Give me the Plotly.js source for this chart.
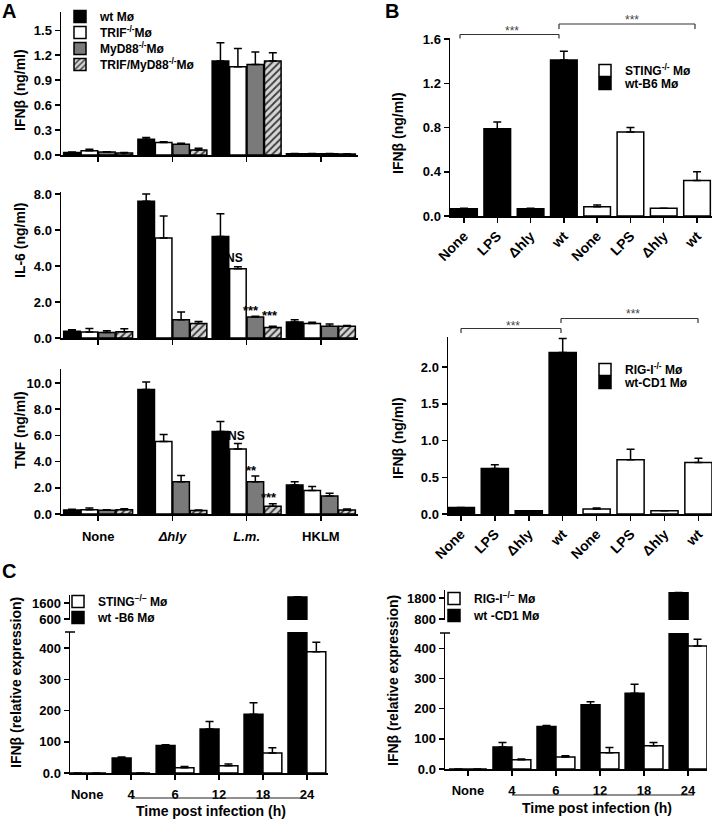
<!DOCTYPE html>
<html><head><meta charset="utf-8">
<script src="https://cdn.plot.ly/plotly-3.0.1.min.js"></script>
<style>html,body{margin:0;padding:0;background:#fff;}#chart{width:716px;height:819px;}</style>
</head><body><div id="chart"></div>
<script>
// ---------- DATA ----------
// Panel A (4 groups x 4 genotypes)
const groupsA = ['None', 'Δhly', 'L.m.', 'HKLM'];
const groupTicksA = ['None', '<i>Δhly</i>', '<i>L.m.</i>', 'HKLM'];
const seriesA = ['wt Mø', 'TRIF<sup>-/-</sup>Mø', 'MyD88<sup>-/-</sup>Mø', 'TRIF/MyD88<sup>-/-</sup>Mø'];

const ifnA_wt   = [0.03, 0.19, 1.13, 0.015];
const ifnA_trif = [0.05, 0.15, 1.06, 0.015];
const ifnA_myd  = [0.035, 0.13, 1.09, 0.015];
const ifnA_dko  = [0.025, 0.06, 1.13, 0.012];
const ifnA_wt_err   = [0.005, 0.02, 0.22, 0.003];
const ifnA_trif_err = [0.02, 0.01, 0.22, 0.003];
const ifnA_myd_err  = [0.005, 0.01, 0.15, 0.003];
const ifnA_dko_err  = [0.005, 0.02, 0.10, 0.003];

const il6_wt   = [0.37, 7.6, 5.64, 0.89];
const il6_trif = [0.33, 5.55, 3.84, 0.80];
const il6_myd  = [0.30, 1.02, 1.16, 0.65];
const il6_dko  = [0.35, 0.80, 0.59, 0.65];
const il6_wt_err   = [0.09, 0.40, 1.26, 0.13];
const il6_trif_err = [0.20, 1.23, 0.12, 0.07];
const il6_myd_err  = [0.10, 0.42, 0.05, 0.13];
const il6_dko_err  = [0.17, 0.12, 0.06, 0.05];

const tnf_wt   = [0.31, 9.5, 6.3, 2.22];
const tnf_trif = [0.33, 5.54, 4.97, 1.79];
const tnf_myd  = [0.28, 2.47, 2.47, 1.38];
const tnf_dko  = [0.33, 0.26, 0.59, 0.31];
const tnf_wt_err   = [0.05, 0.58, 0.77, 0.25];
const tnf_trif_err = [0.13, 0.53, 0.41, 0.30];
const tnf_myd_err  = [0.04, 0.46, 0.43, 0.20];
const tnf_dko_err  = [0.08, 0.05, 0.20, 0.07];

// Panel B
const stimB = ['None', 'LPS', 'Δhly', 'wt'];
const ifnB_wtB6  = [0.066, 0.79, 0.066, 1.41];
const ifnB_wtB6_err = [0.005, 0.06, 0.005, 0.08];
const ifnB_sting = [0.084, 0.76, 0.07, 0.32];
const ifnB_sting_err = [0.016, 0.04, 0.0, 0.08];

const ifnB_wtCD1 = [0.09, 0.62, 0.045, 2.2];
const ifnB_wtCD1_err = [0.0, 0.05, 0.0, 0.19];
const ifnB_rigi  = [0.068, 0.74, 0.045, 0.70];
const ifnB_rigi_err = [0.012, 0.14, 0.0, 0.06];

// Panel C
const timeC = ['None', '4', '6', '12', '18', '24'];
const relC_wtB6  = [0, 48, 88.5, 141, 188, 1980];
const relC_wtB6_err = [0, 3, 2, 24, 37, 15];
const relC_sting = [0, 0, 17, 23.5, 64, 389];
const relC_sting_err = [0, 0, 4, 5.5, 17, 30];
const relC_wtCD1 = [0, 73, 141, 213, 251, 2050];
const relC_wtCD1_err = [0, 15, 3, 10, 30, 15];
const relC_rigi  = [0, 31, 40, 54, 77, 408];
const relC_rigi_err = [0, 2, 4, 17, 11, 22];

// ---------- LAYOUT HELPERS ----------
const W = 716, H = 819;
const F = 'Liberation Sans, Arial, sans-serif';
const xd = (a, b) => [a / W, b / W];
const yd = (t, b) => [1 - b / H, 1 - t / H];
const zeros = a => a.map(() => 0);
const errUp = e => ({type: 'data', symmetric: false, array: e, arrayminus: zeros(e),
  color: 'black', thickness: 1.5, width: 4});
const LINE = {color: 'black', width: 1.5};

const fillA = [
  {color: '#000000', line: LINE},
  {color: '#ffffff', line: LINE},
  {color: '#7a7a7a', line: LINE},
  {color: '#d6d6d6', line: LINE, pattern: {shape: '/', fgcolor: '#3a3a3a', bgcolor: '#d6d6d6', size: 5, solidity: 0.35}}
];
const legA = ['legend', 'legend2', 'legend3', 'legend4'];

const traces = [];
const panelsA = [
  {ax: '', vals: [ifnA_wt, ifnA_trif, ifnA_myd, ifnA_dko], errs: [ifnA_wt_err, ifnA_trif_err, ifnA_myd_err, ifnA_dko_err]},
  {ax: '2', vals: [il6_wt, il6_trif, il6_myd, il6_dko], errs: [il6_wt_err, il6_trif_err, il6_myd_err, il6_dko_err]},
  {ax: '3', vals: [tnf_wt, tnf_trif, tnf_myd, tnf_dko], errs: [tnf_wt_err, tnf_trif_err, tnf_myd_err, tnf_dko_err]}
];
panelsA.forEach((p, pi) => {
  p.vals.forEach((v, si) => {
    traces.push({type: 'bar', x: groupsA, y: v, name: seriesA[si],
      xaxis: 'x' + p.ax, yaxis: 'y' + p.ax, legend: legA[si], showlegend: pi === 0,
      marker: fillA[si], error_y: errUp(p.errs[si]), hoverinfo: 'skip'});
  });
});

// Panel B
const idxB = stimB.map((_, i) => i);
const idxB2 = stimB.map((_, i) => i + stimB.length);
const ticksB = stimB.concat(stimB);
function bPair(xa, ya, legBlack, legWhite, blackY, blackE, blackName, whiteY, whiteE, whiteName) {
  traces.push({type: 'bar', x: idxB, y: blackY, name: blackName, xaxis: xa, yaxis: ya, legend: legBlack,
    width: 0.8, offset: -0.4, marker: {color: '#000', line: LINE}, error_y: errUp(blackE), hoverinfo: 'skip'});
  traces.push({type: 'bar', x: idxB2, y: whiteY, name: whiteName, xaxis: xa, yaxis: ya, legend: legWhite,
    width: 0.8, offset: -0.4, marker: {color: '#fff', line: LINE}, error_y: errUp(whiteE), hoverinfo: 'skip'});
}
bPair('x4', 'y4', 'legend6', 'legend5', ifnB_wtB6, ifnB_wtB6_err, 'wt-B6 Mø', ifnB_sting, ifnB_sting_err, 'STING<sup>-/-</sup> Mø');
bPair('x5', 'y5', 'legend8', 'legend7', ifnB_wtCD1, ifnB_wtCD1_err, 'wt-CD1 Mø', ifnB_rigi, ifnB_rigi_err, 'RIG-I<sup>-/-</sup> Mø');

// Panel C (broken axis: same data drawn on a lower and an upper y axis)
function cPair(xa, yLow, yHigh, legBlack, legWhite, blackY, blackE, blackName, whiteY, whiteE, whiteName) {
  [yLow, yHigh].forEach((ya, k) => {
    traces.push({type: 'bar', x: timeC, y: blackY, name: blackName, xaxis: xa, yaxis: ya, legend: legBlack,
      showlegend: k === 0, width: 0.43, offset: -0.43, marker: {color: '#000', line: LINE},
      error_y: errUp(blackE), hoverinfo: 'skip'});
    traces.push({type: 'bar', x: timeC, y: whiteY, name: whiteName, xaxis: xa, yaxis: ya, legend: legWhite,
      showlegend: k === 0, width: 0.43, offset: 0, marker: {color: '#fff', line: LINE},
      error_y: errUp(whiteE), hoverinfo: 'skip'});
  });
}
cPair('x6', 'y6', 'y7', 'legend10', 'legend9', relC_wtB6, relC_wtB6_err, 'wt -B6 Mø', relC_sting, relC_sting_err, 'STING<sup>−/−</sup> Mø');
cPair('x8', 'y8', 'y9', 'legend12', 'legend11', relC_wtCD1, relC_wtCD1_err, 'wt -CD1 Mø', relC_rigi, relC_rigi_err, 'RIG-I<sup>−/−</sup> Mø');

// ---------- AXES ----------
const tf = {family: F, size: 13, color: 'black', weight: 'bold'};
const base = {showline: true, linecolor: 'black', linewidth: 1.5, ticks: 'outside', ticklen: 5,
  tickwidth: 1.5, tickcolor: 'black', showgrid: false, zeroline: false, tickfont: tf, fixedrange: true};
const ax = o => Object.assign({}, base, o);

const layout = {
  width: W, height: H, margin: {l: 0, r: 0, t: 0, b: 0},
  paper_bgcolor: '#fff', plot_bgcolor: 'rgba(0,0,0,0)',
  font: {family: F, size: 13, color: 'black', weight: 'bold'},
  barmode: 'group', bargap: 0.06, bargroupgap: 0.05,
  // A
  xaxis:  ax({domain: xd(61, 358), anchor: 'y',  type: 'category', range: [-0.5, 3.5], showticklabels: false}),
  yaxis:  ax({domain: yd(12, 155),  anchor: 'x',  range: [0, 1.72], tick0: 0, dtick: 0.3, tickformat: '.1f'}),
  xaxis2: ax({domain: xd(61, 358), anchor: 'y2', type: 'category', range: [-0.5, 3.5], showticklabels: false}),
  yaxis2: ax({domain: yd(192, 338), anchor: 'x2', range: [0, 8.11], tick0: 0, dtick: 2, tickformat: '.1f'}),
  xaxis3: ax({domain: xd(61, 358), anchor: 'y3', type: 'category', range: [-0.5, 3.5],
             tickvals: groupsA, ticktext: groupTicksA, ticklabelstandoff: 5}),
  yaxis3: ax({domain: yd(369, 514), anchor: 'x3', range: [0, 11.07], tick0: 0, dtick: 2, tickformat: '.1f'}),
  // B
  xaxis4: ax({domain: xd(450, 712), anchor: 'y4', range: [-0.42, 7.45], tickvals: idxB.concat(idxB2),
             ticktext: ticksB, tickangle: -45, tickfont: Object.assign({}, tf, {size: 14})}),
  yaxis4: ax({domain: yd(38, 216), anchor: 'x4', range: [0, 1.61], tick0: 0, dtick: 0.4, tickformat: '.1f'}),
  xaxis5: ax({domain: xd(448, 712), anchor: 'y5', range: [-0.38, 7.4], tickvals: idxB.concat(idxB2),
             ticktext: ticksB, tickangle: -45, tickfont: Object.assign({}, tf, {size: 14})}),
  yaxis5: ax({domain: yd(337, 514), anchor: 'x5', range: [0, 2.41], tick0: 0, dtick: 0.5, tickformat: '.1f'}),
  // C left
  xaxis6: ax({domain: xd(70, 328), anchor: 'y6', type: 'category', range: [-0.39, 5.48], ticklabelstandoff: 4}),
  yaxis6: ax({domain: yd(632, 773), anchor: 'x6', range: [0, 452],
             tickvals: [0, 100, 200, 300, 400], ticktext: ['0.0', '100', '200', '300', '400']}),
  yaxis7: ax({domain: yd(595, 620), anchor: 'x6', range: [537, 2100], tickvals: [600, 1600]}),
  // C right
  xaxis8: ax({domain: xd(445, 707), anchor: 'y8', type: 'category', range: [-0.52, 5.43], ticklabelstandoff: 4}),
  yaxis8: ax({domain: yd(633, 769), anchor: 'x8', range: [0, 451],
             tickvals: [0, 100, 200, 300, 400], ticktext: ['0.0', '100', '200', '300', '400']}),
  yaxis9: ax({domain: yd(590, 620), anchor: 'x8', range: [752, 2181], tickvals: [800, 1800]}),
  annotations: [],
  shapes: []
};

// one legend box per row so each row sits where the reference puts it
function leg(xpx, topPx) {
  return {x: xpx / W, y: 1 - topPx / H, xanchor: 'left', yanchor: 'top', bgcolor: 'rgba(0,0,0,0)',
    borderwidth: 0, font: {family: F, size: 12, color: 'black', weight: 'bold'}};
}
layout.legend   = leg(60, 2);
layout.legend2  = leg(60, 18);
layout.legend3  = leg(60, 34);
layout.legend4  = leg(60, 50);
layout.legend5  = leg(585, 56);
layout.legend6  = leg(585, 69);
layout.legend7  = leg(585, 355);
layout.legend8  = leg(585, 368);
layout.legend9  = leg(58, 587);
layout.legend10 = leg(58, 603);
layout.legend11 = leg(434, 584);
layout.legend12 = leg(434, 601);

// ---------- ANNOTATIONS & SHAPES ----------
function pann(x, y, text, o) {
  return Object.assign({xref: 'paper', yref: 'paper', x: x / W, y: 1 - y / H, text: text, showarrow: false,
    xanchor: 'center', yanchor: 'middle', font: {family: F, size: 14, color: 'black', weight: 'bold'}}, o || {});
}
function pline(x0, y0, x1, y1, color, w) {
  return {type: 'line', xref: 'paper', yref: 'paper', x0: x0 / W, y0: 1 - y0 / H, x1: x1 / W, y1: 1 - y1 / H,
    line: {color: color || '#333', width: w || 1.2}};
}
function bracket(x0, x1, y, drop) {
  return [pline(x0, y, x1, y), pline(x0, y, x0, y + drop), pline(x1, y, x1, y + drop)];
}
const A = layout.annotations, S = layout.shapes;
// panel letters
A.push(pann(9, 11, 'A', {font: {family: F, size: 20, color: 'black', weight: 'bold'}}));
A.push(pann(392, 11, 'B', {font: {family: F, size: 20, color: 'black', weight: 'bold'}}));
A.push(pann(9, 571, 'C', {font: {family: F, size: 20, color: 'black', weight: 'bold'}}));
// y titles
const rot = {textangle: -90};
A.push(pann(20, 90, 'IFNβ (ng/ml)', rot));
A.push(pann(20, 241, 'IL-6 (ng/ml)', rot));
A.push(pann(20, 430, 'TNF (ng/ml)', rot));
A.push(pann(398, 133, 'IFNβ (ng/ml)', rot));
A.push(pann(398, 438, 'IFNβ (ng/ml)', rot));
A.push(pann(16, 683, 'IFNβ (relative expression)', rot));
A.push(pann(393, 681, 'IFNβ (relative expression)', rot));
// significance in A
const ns = {font: {family: F, size: 12, color: 'black', weight: 'bold'}};
const st = {font: {family: F, size: 13, color: 'black', weight: 'bold'}};
A.push(pann(234, 258, 'NS', ns));
A.push(pann(251, 310, '***', st));
A.push(pann(270, 315, '***', st));
A.push(pann(236, 436, 'NS', ns));
A.push(pann(251, 471, '**', st));
A.push(pann(269, 498, '***', st));
// brackets in B
const starF = {font: {family: F, size: 12, color: '#444', weight: 'normal'}};
S.push(...bracket(460, 559, 34.5, 4));
S.push(...bracket(559, 695, 24, 5));
A.push(pann(512, 31, '***', starF));
A.push(pann(632, 20, '***', starF));
S.push(...bracket(461, 561, 328.5, 4.5));
S.push(...bracket(561, 698, 318.5, 4.5));
A.push(pann(513, 326, '***', starF));
A.push(pann(633, 314, '***', starF));
// caps at the top of the lower broken axes
S.push(pline(65, 632, 75, 632, '#000', 1.5));
S.push(pline(440, 633, 450, 633, '#000', 1.5));
// C time axis underline + label
S.push(pline(131, 798, 307, 798, '#222', 1.2));
S.push(pline(512, 795, 694, 795, '#222', 1.2));
A.push(pann(211, 811, 'Time post infection (h)'));
A.push(pann(597, 808, 'Time post infection (h)'));

Plotly.newPlot('chart', traces, layout, {staticPlot: true, displayModeBar: false});
</script>
</body></html>
